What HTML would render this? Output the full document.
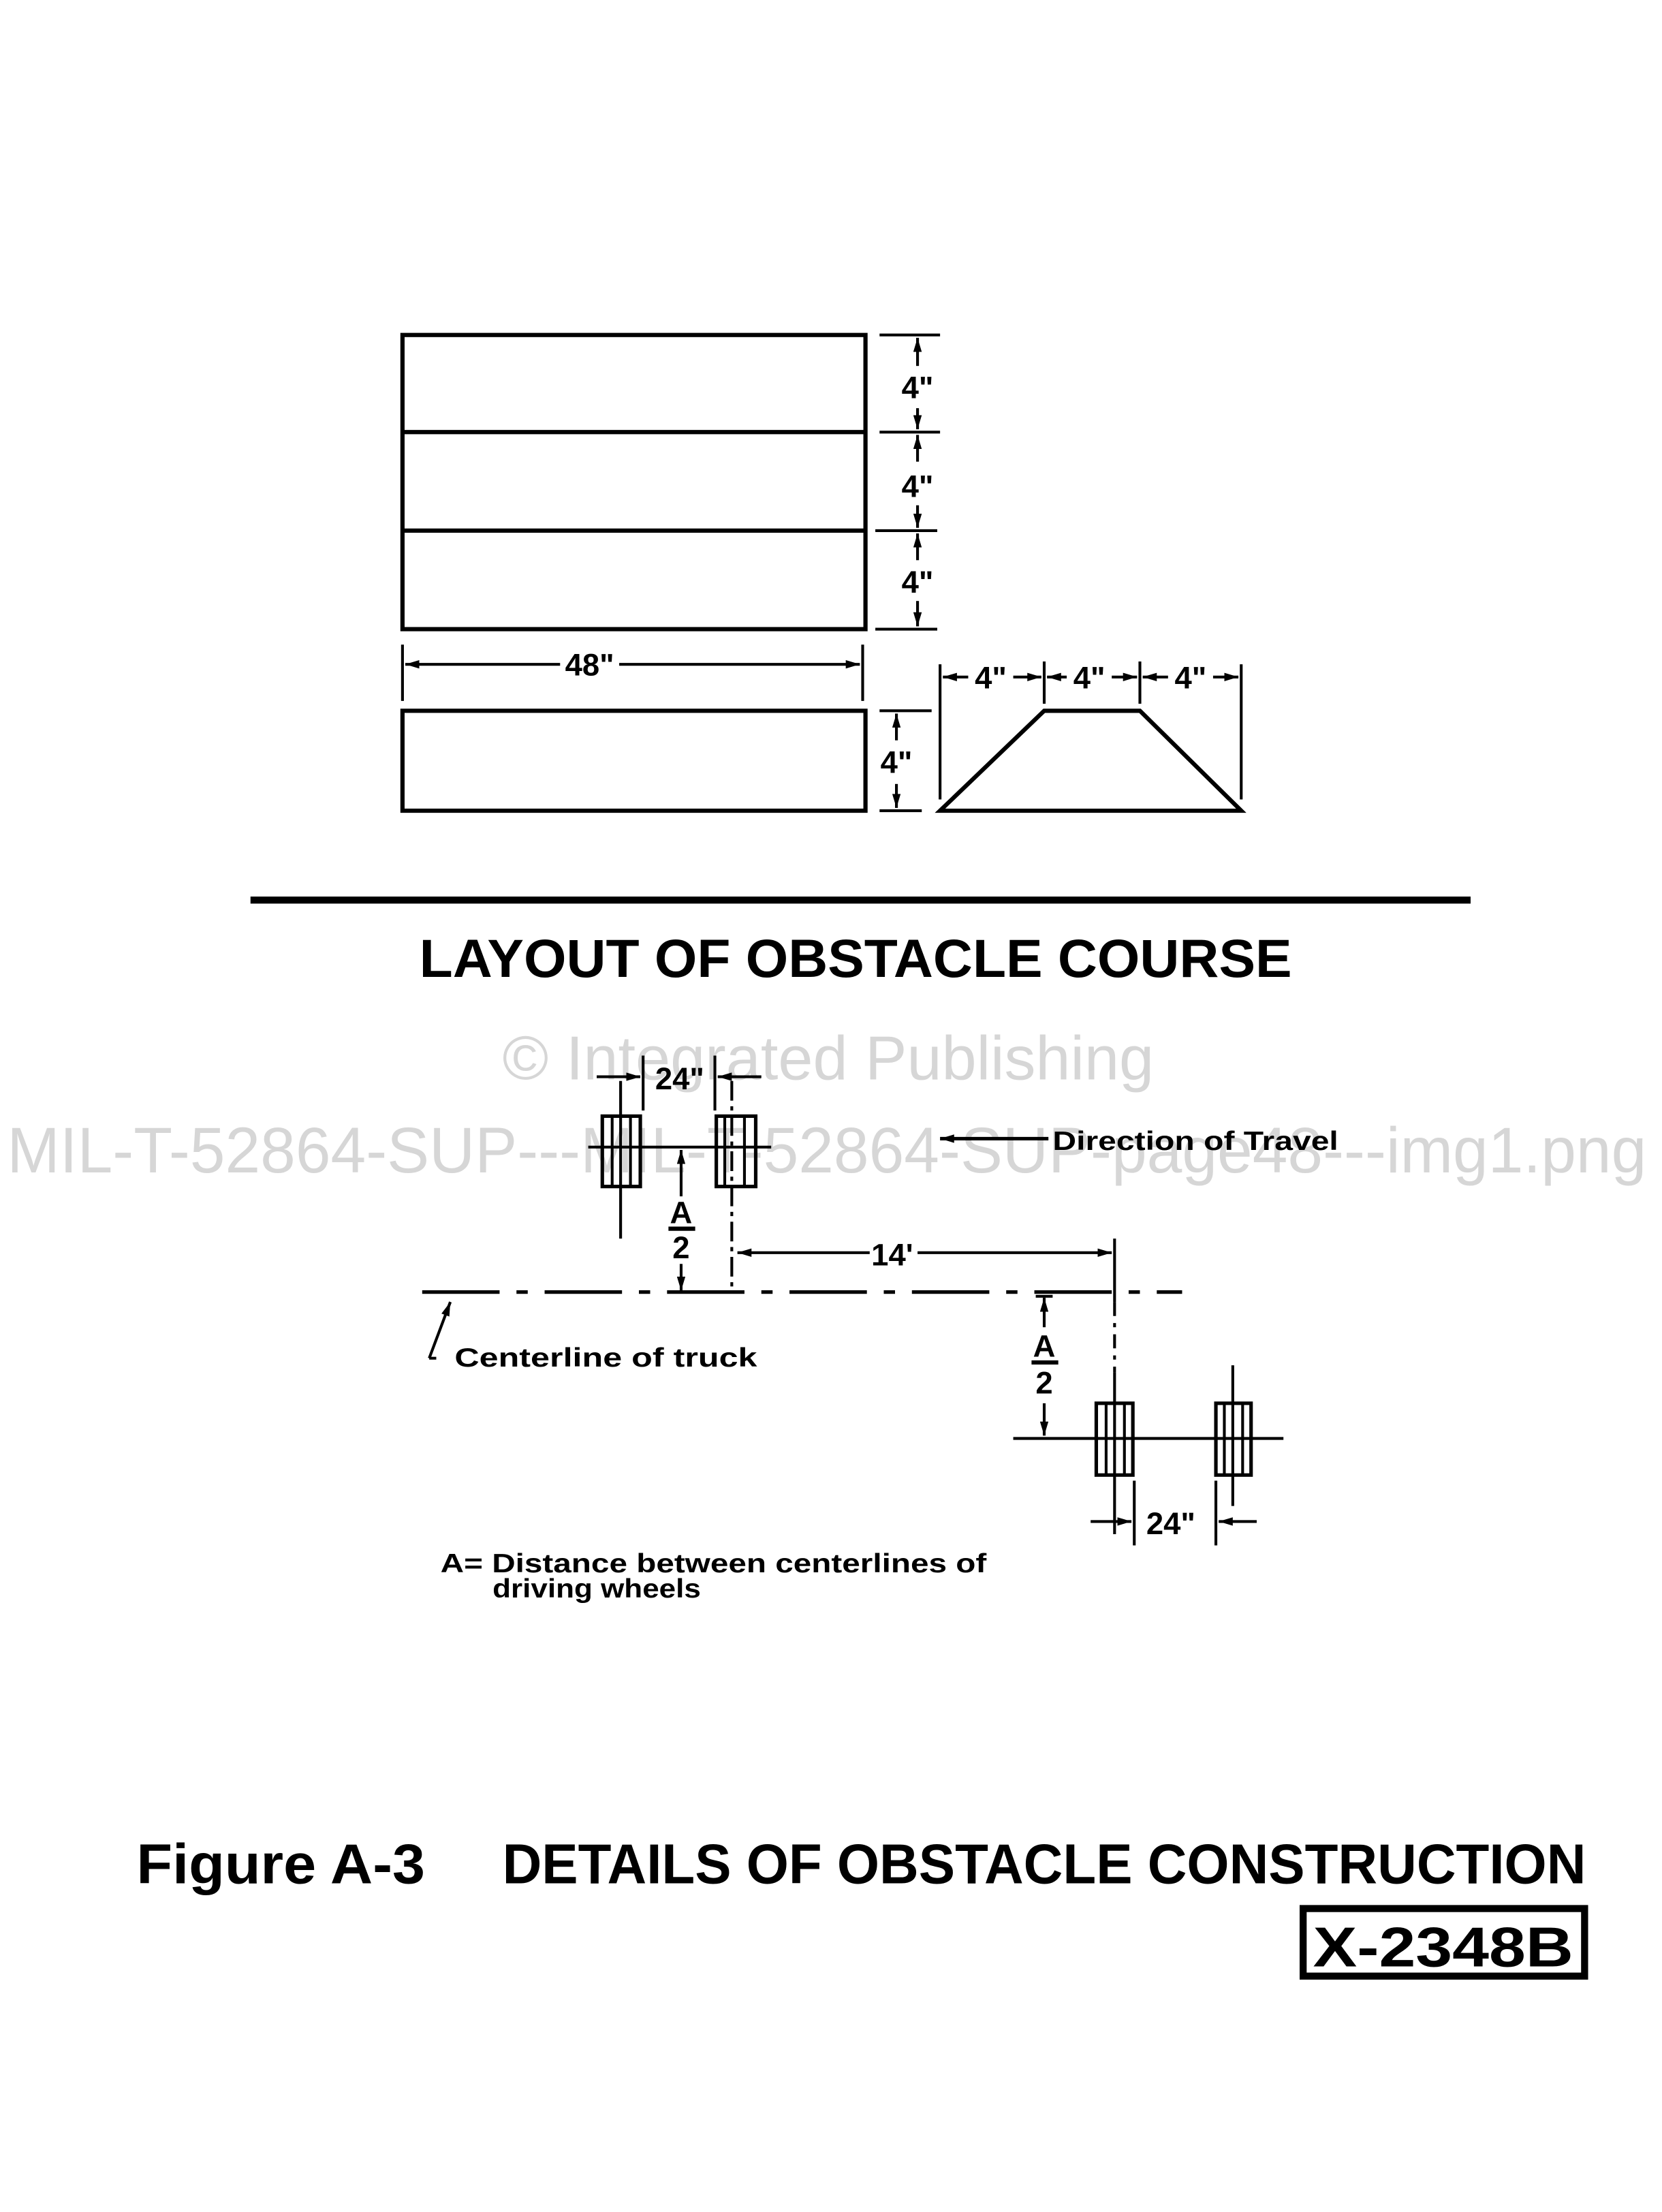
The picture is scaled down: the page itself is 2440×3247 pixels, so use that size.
<!DOCTYPE html>
<html><head><meta charset="utf-8"><style>
html,body{margin:0;padding:0;background:#fff;}
svg{display:block;}
text{font-family:"Liberation Sans",sans-serif;font-weight:bold;fill:#000;}
.w{font-weight:normal;fill:#d6d6d6;}
</style></head><body>
<svg width="2440" height="3247" viewBox="0 0 1181 1571.6" preserveAspectRatio="none" xmlns="http://www.w3.org/2000/svg">
<defs>
<marker id="a" viewBox="0 0 10 6" refX="10" refY="3" markerWidth="10" markerHeight="6" markerUnits="userSpaceOnUse" orient="auto"><path d="M0,0 L10,3 L0,6 z" fill="#000"/></marker>
</defs>
<text class="w" x="357" y="767" font-size="44" textLength="463" lengthAdjust="spacingAndGlyphs">© Integrated Publishing</text>
<text class="w" x="5" y="833" font-size="46" textLength="1165" lengthAdjust="spacingAndGlyphs">MIL-T-52864-SUP---MIL-T-52864-SUP-page48---img1.png</text>

<g stroke="#000" fill="none" stroke-width="3">
<rect x="286" y="238" width="329" height="209"/>
<line x1="286" y1="307" x2="615" y2="307"/>
<line x1="286" y1="377" x2="615" y2="377"/>
<g stroke-width="2">
<line x1="625" y1="238" x2="668" y2="238"/>
<line x1="625" y1="307" x2="668" y2="307"/>
<line x1="622" y1="377" x2="666" y2="377"/>
<line x1="622" y1="447" x2="666" y2="447"/>
<line x1="652" y1="260" x2="652" y2="240" marker-end="url(#a)"/>
<line x1="652" y1="290" x2="652" y2="305" marker-end="url(#a)"/>
<line x1="652" y1="328" x2="652" y2="309" marker-end="url(#a)"/>
<line x1="652" y1="359" x2="652" y2="375" marker-end="url(#a)"/>
<line x1="652" y1="398" x2="652" y2="379" marker-end="url(#a)"/>
<line x1="652" y1="427" x2="652" y2="445" marker-end="url(#a)"/>
<line x1="286" y1="458" x2="286" y2="498"/>
<line x1="613" y1="458" x2="613" y2="498"/>
<line x1="398" y1="472" x2="288" y2="472" marker-end="url(#a)"/>
<line x1="440" y1="472" x2="611" y2="472" marker-end="url(#a)"/>
</g>
<rect x="286" y="505" width="329" height="71"/>
<g stroke-width="2">
<line x1="625" y1="505" x2="662" y2="505"/>
<line x1="625" y1="576" x2="655" y2="576"/>
<line x1="637" y1="526" x2="637" y2="507" marker-end="url(#a)"/>
<line x1="637" y1="557" x2="637" y2="574" marker-end="url(#a)"/>
</g>
<polygon points="668,576 742,505 810,505 882,576"/>
<g stroke-width="2">
<line x1="668" y1="472" x2="668" y2="568"/>
<line x1="742" y1="470" x2="742" y2="500"/>
<line x1="810" y1="470" x2="810" y2="500"/>
<line x1="882" y1="472" x2="882" y2="568"/>
<line x1="688" y1="481" x2="670" y2="481" marker-end="url(#a)"/>
<line x1="720" y1="481" x2="740" y2="481" marker-end="url(#a)"/>
<line x1="758" y1="481" x2="744" y2="481" marker-end="url(#a)"/>
<line x1="790" y1="481" x2="808" y2="481" marker-end="url(#a)"/>
<line x1="830" y1="481" x2="812" y2="481" marker-end="url(#a)"/>
<line x1="862" y1="481" x2="880" y2="481" marker-end="url(#a)"/>
</g>
</g>
<rect x="178" y="637" width="867" height="5" fill="#000"/>

<g font-size="22" text-anchor="middle">
<text x="652" y="283">4"</text>
<text x="652" y="353">4"</text>
<text x="652" y="421">4"</text>
<text x="419" y="480">48"</text>
<text x="637" y="549">4"</text>
<text x="704" y="489">4"</text>
<text x="774" y="489">4"</text>
<text x="846" y="489">4"</text>
</g>
<text x="298" y="694" font-size="38" textLength="620" lengthAdjust="spacingAndGlyphs">LAYOUT  OF  OBSTACLE  COURSE</text>

<g stroke="#000" fill="none" stroke-width="2">
<rect x="428" y="793" width="27" height="50" stroke-width="2.5"/>
<line x1="435" y1="793" x2="435" y2="843"/><line x1="448" y1="793" x2="448" y2="843"/>
<rect x="509" y="793" width="28" height="50" stroke-width="2.5"/>
<line x1="515" y1="793" x2="515" y2="843"/><line x1="529" y1="793" x2="529" y2="843"/>
<line x1="418" y1="815" x2="548" y2="815"/>
<line x1="441" y1="768" x2="441" y2="880"/>
<line x1="520" y1="768" x2="520" y2="915" stroke-dasharray="14 4 3 4"/>
<line x1="457" y1="750" x2="457" y2="789"/>
<line x1="508" y1="750" x2="508" y2="789"/>
<line x1="424" y1="765" x2="455" y2="765" marker-end="url(#a)"/>
<line x1="541" y1="765" x2="510" y2="765" marker-end="url(#a)"/>
<line x1="484" y1="850" x2="484" y2="817" marker-end="url(#a)"/>
<line x1="484" y1="898" x2="484" y2="917" marker-end="url(#a)"/>
<line x1="475" y1="873" x2="494" y2="873" stroke-width="3"/>
<line x1="300" y1="918" x2="840" y2="918" stroke-width="2.5" stroke-dasharray="55 12 8 12"/>
<polyline points="305,965 310,965"/>
<line x1="305" y1="965" x2="320" y2="925" marker-end="url(#a)"/>
<line x1="745" y1="809" x2="668" y2="809" marker-end="url(#a)" stroke-width="2.5"/>
<line x1="618" y1="890" x2="524" y2="890" marker-end="url(#a)"/>
<line x1="652" y1="890" x2="790" y2="890" marker-end="url(#a)"/>
<line x1="792" y1="880" x2="792" y2="925"/>
<line x1="792" y1="925" x2="792" y2="975" stroke-dasharray="10 5 3 5"/>
<line x1="792" y1="975" x2="792" y2="1090"/>
<line x1="736" y1="921" x2="748" y2="921"/>
<line x1="742" y1="943" x2="742" y2="922" marker-end="url(#a)"/>
<line x1="742" y1="997" x2="742" y2="1020" marker-end="url(#a)"/>
<line x1="733" y1="968" x2="752" y2="968" stroke-width="3"/>
<rect x="779" y="997" width="26" height="51" stroke-width="2.5"/>
<line x1="786" y1="997" x2="786" y2="1048"/><line x1="799" y1="997" x2="799" y2="1048"/>
<rect x="864" y="997" width="25" height="51" stroke-width="2.5"/>
<line x1="870" y1="997" x2="870" y2="1048"/><line x1="883" y1="997" x2="883" y2="1048"/>
<line x1="720" y1="1022" x2="912" y2="1022"/>
<line x1="876" y1="970" x2="876" y2="1070"/>
<line x1="806" y1="1052" x2="806" y2="1098"/>
<line x1="864" y1="1052" x2="864" y2="1098"/>
<line x1="775" y1="1081" x2="804" y2="1081" marker-end="url(#a)"/>
<line x1="893" y1="1081" x2="866" y2="1081" marker-end="url(#a)"/>
</g>
<g font-size="22" text-anchor="middle">
<text x="483" y="774">24"</text>
<text x="484" y="869">A</text>
<text x="484" y="894">2</text>
<text x="634" y="899">14'</text>
<text x="742" y="964">A</text>
<text x="742" y="990">2</text>
<text x="832" y="1090">24"</text>
</g>
<g font-size="19">
<text x="748" y="817" textLength="203" lengthAdjust="spacingAndGlyphs">Direction  of  Travel</text>
<text x="323" y="971" textLength="215" lengthAdjust="spacingAndGlyphs">Centerline   of   truck</text>
<text x="313" y="1117" textLength="388" lengthAdjust="spacingAndGlyphs">A= Distance   between   centerlines   of</text>
<text x="350" y="1135" textLength="148" lengthAdjust="spacingAndGlyphs">driving   wheels</text>
</g>
<g font-size="40">
<text x="97" y="1338" textLength="205" lengthAdjust="spacingAndGlyphs">Figure A-3</text>
<text x="357" y="1338" textLength="770" lengthAdjust="spacingAndGlyphs">DETAILS  OF  OBSTACLE  CONSTRUCTION</text>
</g>
<rect x="926" y="1356" width="200" height="48" fill="none" stroke="#000" stroke-width="5"/>
<text x="933" y="1397" font-size="40" textLength="185" lengthAdjust="spacingAndGlyphs">X-2348B</text>
</svg>
</body></html>
